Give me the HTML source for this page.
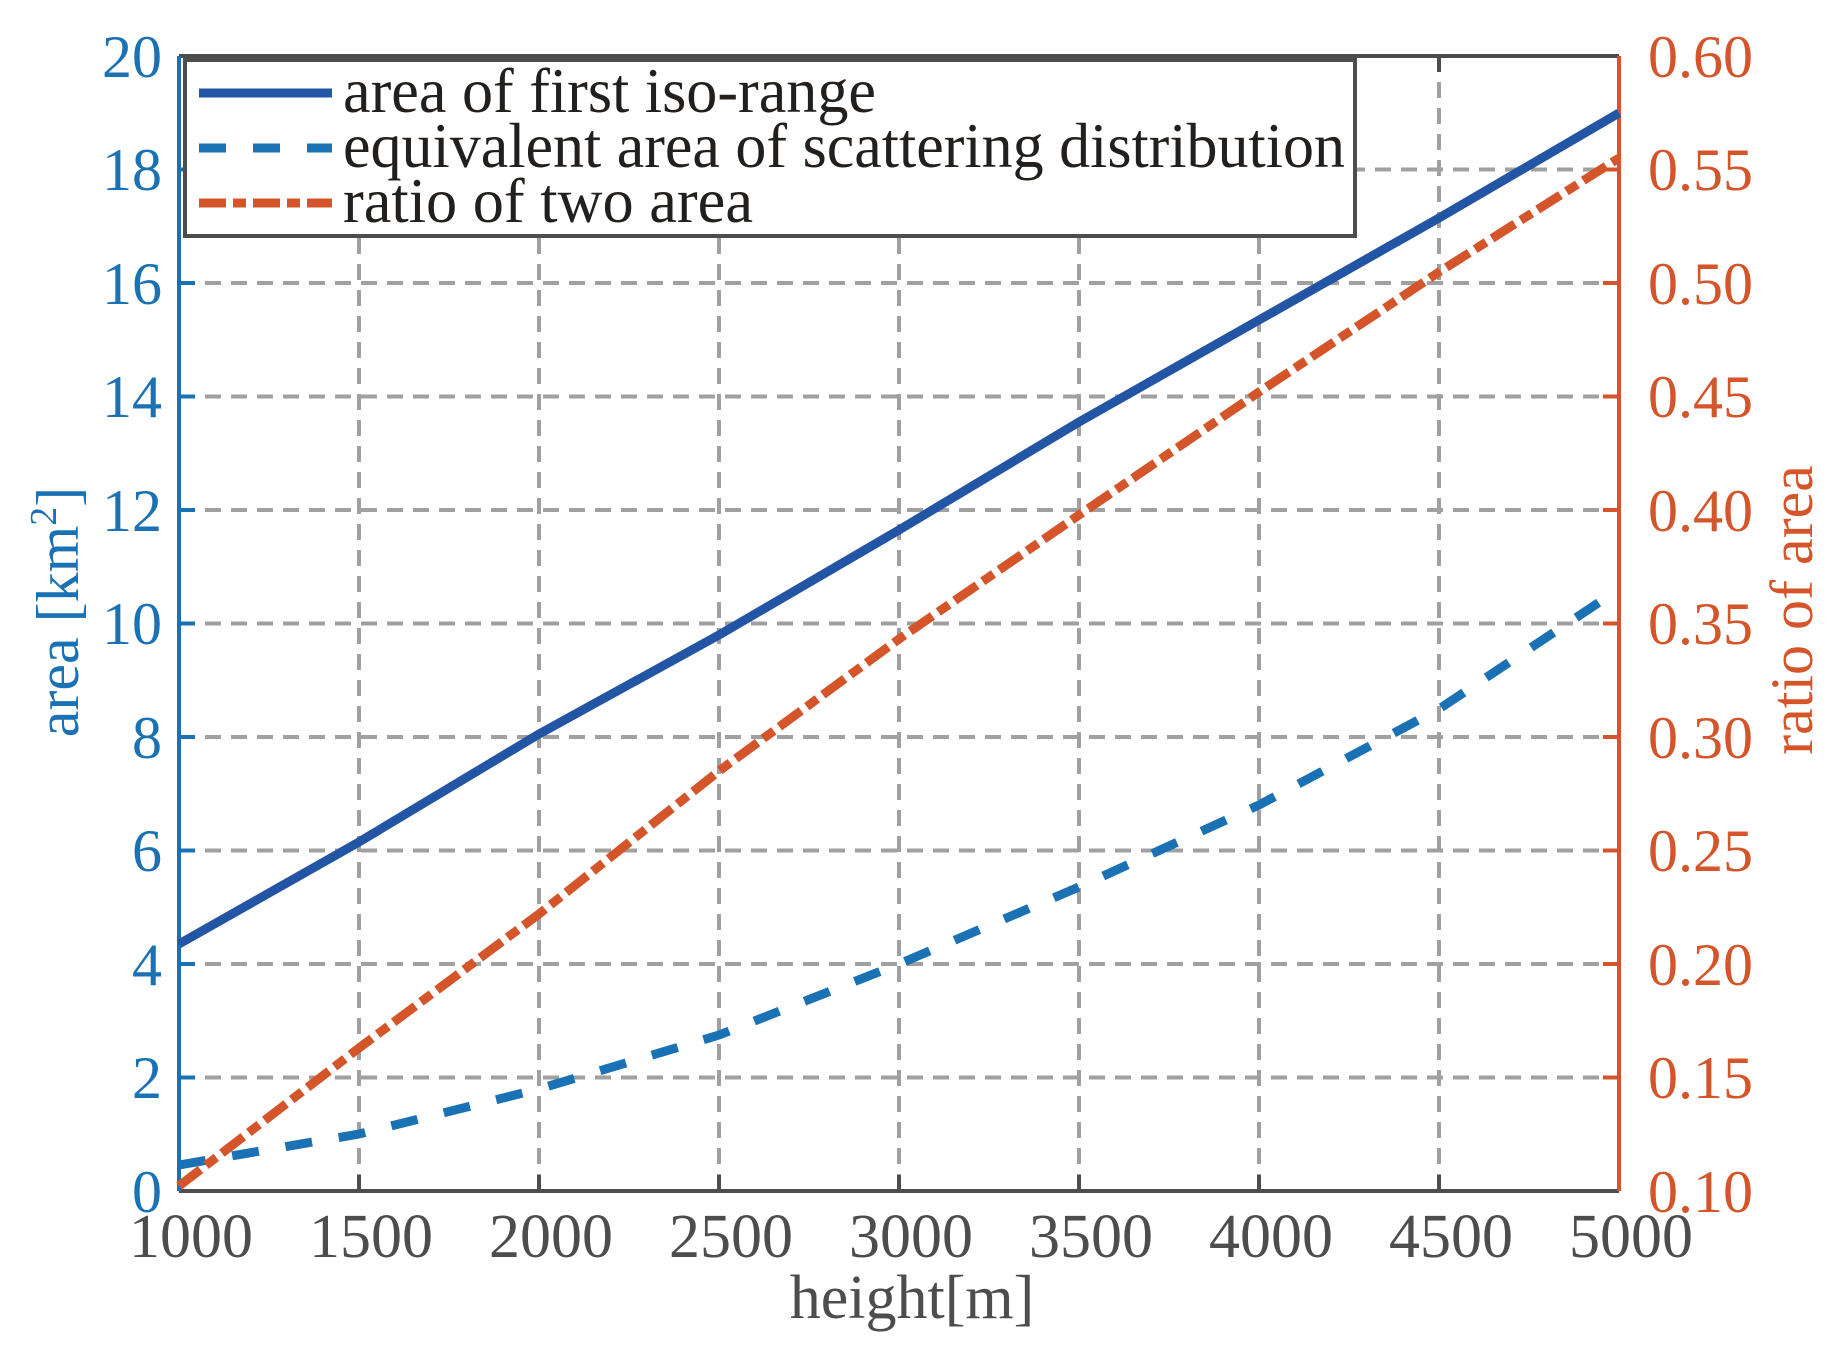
<!DOCTYPE html>
<html><head><meta charset="utf-8"><style>html,body{margin:0;padding:0;background:#fff}svg{display:block}svg text{font-family:"Liberation Serif","Times New Roman",serif}</style></head>
<body>
<svg width="1831" height="1363" viewBox="0 0 1831 1363" xmlns="http://www.w3.org/2000/svg">
<rect width="1831" height="1363" fill="#fff"/>
<g stroke="#a0a0a0" stroke-width="4" stroke-dasharray="16 10" fill="none">
<path d="M179 1077.5H1619M179 964H1619M179 850.5H1619M179 737H1619M179 623.5H1619M179 510H1619M179 396.5H1619M179 283H1619M179 169.5H1619M179 56H1619"/>
<path d="M359 56V1191M539 56V1191M719 56V1191M899 56V1191M1079 56V1191M1259 56V1191M1439 56V1191M1619 56V1191"/>
</g>
<g stroke="#4d4d4d" stroke-width="4" fill="none">
<path d="M179 1191H1619M179 56H1619"/>
<path d="M359 1191v-16M539 1191v-16M719 1191v-16M899 1191v-16M1079 1191v-16M1259 1191v-16M1439 1191v-16M359 56v16M539 56v16M719 56v16M899 56v16M1079 56v16M1259 56v16M1439 56v16"/>
</g>
<g stroke="#1a72b4" stroke-width="4" fill="none">
<path d="M179 56V1191"/>
<path d="M179 1077.5h16M179 964h16M179 850.5h16M179 737h16M179 623.5h16M179 510h16M179 396.5h16M179 283h16M179 169.5h16"/>
</g>
<g stroke="#d4552a" stroke-width="4" fill="none">
<path d="M1619 56V1191"/>
<path d="M1619 1077.5h-16M1619 964h-16M1619 850.5h-16M1619 737h-16M1619 623.5h-16M1619 510h-16M1619 396.5h-16M1619 283h-16M1619 169.5h-16"/>
</g>
<polyline fill="none" stroke="#2255a4" stroke-width="9" points="179,944 359,842 539,734 719,635 899,530 1079,422 1259,320 1439,218 1619,113"/>
<polyline fill="none" stroke="#1a72b4" stroke-width="9" stroke-dasharray="27 27" points="179,1165 359,1134 539,1089 719,1035 899,964 1079,887 1259,805 1439,709 1619,589"/>
<polyline fill="none" stroke="#d4552a" stroke-width="9" stroke-dasharray="27 7 13 7" points="179,1186 359,1048 539,914 719,771 899,639 1079,515 1259,392 1439,272 1619,158"/>
<rect x="185" y="60" width="1170" height="176" fill="#fff" stroke="#4d4d4d" stroke-width="4"/>
<line x1="199" y1="93" x2="332" y2="93" stroke="#2255a4" stroke-width="9"/>
<line x1="199" y1="148" x2="332" y2="148" stroke="#1a72b4" stroke-width="9" stroke-dasharray="27 27"/>
<line x1="199" y1="203" x2="332" y2="203" stroke="#d4552a" stroke-width="9" stroke-dasharray="27 7 13 7"/>
<g font-size="63" fill="#231f1c">
<text x="343" y="112" textLength="533" lengthAdjust="spacingAndGlyphs">area of first iso-range</text>
<text x="343" y="167" textLength="1002" lengthAdjust="spacingAndGlyphs">equivalent area of scattering distribution</text>
<text x="343" y="222" textLength="410" lengthAdjust="spacingAndGlyphs">ratio of two area</text>
</g>
<g font-size="60" fill="#1a72b4" text-anchor="end">
<text x="162" y="1212">0</text><text x="162" y="1098">2</text><text x="162" y="985">4</text><text x="162" y="871">6</text><text x="162" y="758">8</text><text x="162" y="644">10</text><text x="162" y="531">12</text><text x="162" y="417">14</text><text x="162" y="304">16</text><text x="162" y="190">18</text><text x="162" y="77">20</text>
</g>
<g font-size="60" fill="#d4552a">
<text x="1648" y="1212">0.10</text><text x="1648" y="1098">0.15</text><text x="1648" y="985">0.20</text><text x="1648" y="871">0.25</text><text x="1648" y="758">0.30</text><text x="1648" y="644">0.35</text><text x="1648" y="531">0.40</text><text x="1648" y="417">0.45</text><text x="1648" y="304">0.50</text><text x="1648" y="190">0.55</text><text x="1648" y="77">0.60</text>
</g>
<g font-size="62" fill="#4d4d4d" text-anchor="middle">
<text x="191" y="1257">1000</text><text x="371" y="1257">1500</text><text x="551" y="1257">2000</text><text x="731" y="1257">2500</text><text x="911" y="1257">3000</text><text x="1091" y="1257">3500</text><text x="1271" y="1257">4000</text><text x="1451" y="1257">4500</text><text x="1631" y="1257">5000</text>
<text x="912" y="1318">height[m]</text>
</g>
<text transform="translate(78,612) rotate(-90)" font-size="60" fill="#1a72b4" text-anchor="middle">area [km<tspan font-size="38" dy="-22">2</tspan><tspan dy="22">]</tspan></text>
<text transform="translate(1812,610) rotate(-90)" font-size="60" fill="#d4552a" text-anchor="middle">ratio of area</text>
</svg>
</body></html>
